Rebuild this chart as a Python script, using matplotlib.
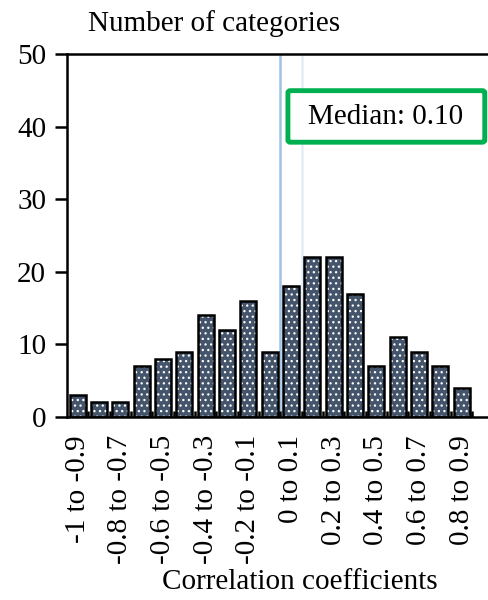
import matplotlib
matplotlib.use("Agg")
import matplotlib.pyplot as plt
import matplotlib.patches as mpatches
import numpy as np

# ── data ──────────────────────────────────────────────────────────────
bins = ["-1 to -0.9", "-0.9 to -0.8", "-0.8 to -0.7", "-0.7 to -0.6",
        "-0.6 to -0.5", "-0.5 to -0.4", "-0.4 to -0.3", "-0.3 to -0.2",
        "-0.2 to -0.1", "-0.1 to 0", "0 to 0.1", "0.1 to 0.2",
        "0.2 to 0.3", "0.3 to 0.4", "0.4 to 0.5", "0.5 to 0.6",
        "0.6 to 0.7", "0.7 to 0.8", "0.8 to 0.9"]
counts = [3, 2, 2, 7, 8, 9, 14, 12, 16, 9, 18, 22, 22, 17, 7, 11, 9, 7, 4]
zero_line = 0.0
median = 0.10
y_ticks = [0, 10, 20, 30, 40, 50]

plt.rcParams["font.family"] = ["Liberation Serif", "DejaVu Serif"]
plt.rcParams["hatch.linewidth"] = 0.9

fig = plt.figure(figsize=(4.89, 6.0), dpi=100)
ax = fig.add_axes([67 / 489, 183 / 600, 422.4 / 489, 363 / 600])

x = np.arange(len(bins))

# map a correlation value to the category axis (bin k starts at -1 + 0.1k)
def corr_to_x(v):
    return (v + 1.0) / 0.1 - 0.5

ax.axvline(corr_to_x(zero_line), color="#9DC3E6", lw=1.8, zorder=1)
ax.axvline(corr_to_x(median), color="#E4EEF8", lw=1.8, zorder=1)

# dotted fill, then black outline on top
ax.bar(x, counts, width=0.74, color="#44546A", edgecolor="white",
       linewidth=0, hatch="...", zorder=2)
ax.bar(x, counts, width=0.74, color="none", edgecolor="black",
       linewidth=1.8, zorder=3)

ax.set_xlim(-0.5, 19.3)
ax.set_ylim(0, 50)
ax.set_yticks(y_ticks)
ax.set_yticklabels([str(v) for v in y_ticks], fontsize=21)
ax.tick_params(axis="y", direction="out", length=9, width=1.8, pad=6)

ax.set_xticks(x[::2])
ax.set_xticklabels(bins[::2], rotation=90, fontsize=21,
                   rotation_mode="anchor", ha="right", va="center")
ax.tick_params(axis="x", which="major", length=0, pad=13)
ax.set_xticks(np.arange(-0.5, 19.5, 1.0)[1:], minor=True)
ax.tick_params(axis="x", which="minor", direction="in", length=4, width=1.8)

for side in ["left", "bottom", "top"]:
    ax.spines[side].set_linewidth(1.8)
ax.spines["right"].set_visible(False)

# median call-out box
box = mpatches.FancyBboxPatch((0.523, 0.757), 0.466, 0.142,
                              boxstyle="round,pad=0,rounding_size=0.006",
                              transform=ax.transAxes, facecolor="white",
                              edgecolor="#00B050", linewidth=3.5, zorder=4,
                              clip_on=False)
ax.add_patch(box)
ax.text(0.754, 0.826, "Median: 0.10", transform=ax.transAxes,
        fontsize=21, ha="center", va="center", zorder=5)

fig.text(214 / 489, 1 - 24 / 600, "Number of categories", fontsize=21,
         ha="center", va="center")
fig.text(300 / 489, 1 - 582 / 600, "Correlation coefficients", fontsize=21,
         ha="center", va="center")

fig.savefig("out.png", dpi=100)
